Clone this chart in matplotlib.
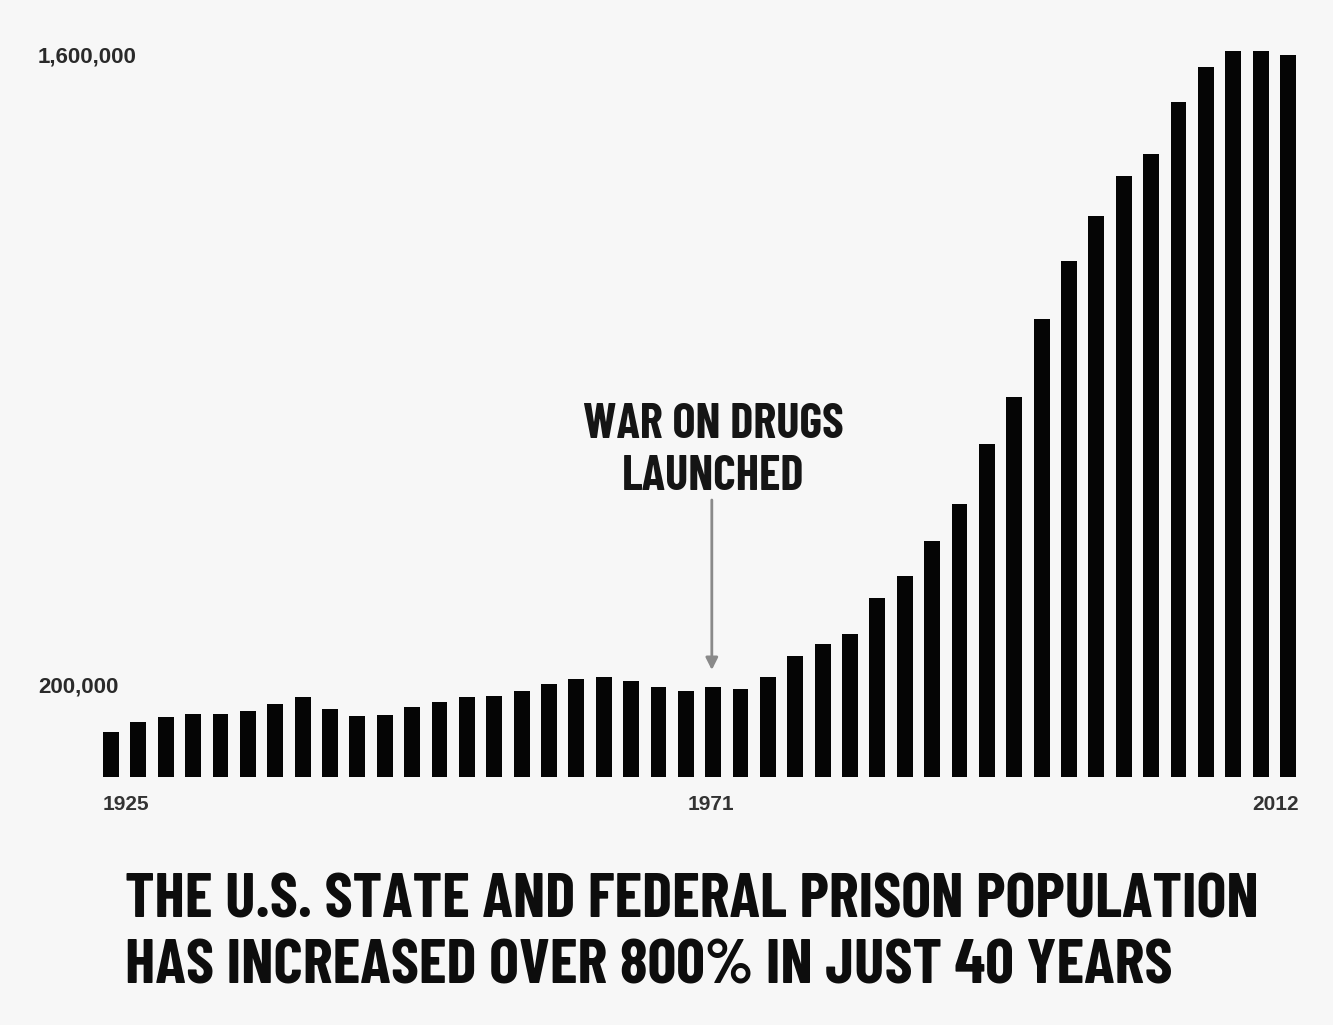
import matplotlib
matplotlib.use('Agg')
import matplotlib.pyplot as plt
from matplotlib.transforms import blended_transform_factory

# ---------------- data ----------------
values = [100000, 122000, 133000, 140000, 140000, 147000, 162000, 178000,
          151000, 136000, 138000, 156000, 167000, 178000, 180000, 191000,
          207000, 218000, 222000, 213000, 200000, 191000, 200000, 196000,
          222000, 269000, 296000, 318000, 398000, 447000, 524000, 607000,
          740000, 844000, 1018000, 1147000, 1247000, 1336000, 1384000,
          1500000, 1578000, 1613000, 1613000, 1604000]
x_tick_labels = ['1925', '1971', '2012']
x_tick_index = [0, 22, 43]
y_tick_values = [200000, 1600000]
y_tick_labels = ['200,000', '1,600,000']
event_index = 22
event_label = ['WAR ON DRUGS', 'LAUNCHED']
title_lines = ['THE U.S. STATE AND FEDERAL PRISON POPULATION',
               'HAS INCREASED OVER 800% IN JUST 40 YEARS']

# ---------------- style ----------------
HEAD = ['Barlow Condensed', 'Bebas Neue', 'DejaVu Sans']
REG = ['Liberation Sans', 'DejaVu Sans']
plt.rcParams['font.family'] = REG
BG = '#f7f7f7'

W, H = 1333, 1025
fig = plt.figure(figsize=(W / 100, H / 100), dpi=100, facecolor=BG)

n = len(values)
x0_px, step_px = 111.0, (1288.0 - 111.0) / (n - 1)
left_px = x0_px - 0.5 * step_px
right_px = x0_px + (n - 0.5) * step_px
base_px, ref_px, ref_val = 777.0, 57.0, 1600000.0
ymax = 1700000.0
top_px = base_px - (base_px - ref_px) * ymax / ref_val
ax = fig.add_axes([left_px / W, (H - base_px) / H,
                   (right_px - left_px) / W, (base_px - top_px) / H])
ax.set_facecolor('none')
ax.set_xlim(-0.5, n - 0.5)
ax.set_ylim(0, ymax)
bw = 0.58
ax.bar(range(n), values, width=bw, color='#050505', zorder=2)
for s in ax.spines.values():
    s.set_visible(False)
ax.set_xticks([])
ax.set_yticks([])

px_per_val = (base_px - ref_px) / ref_val


def fig_y(px):
    return (H - px) / H


# y labels
ty = blended_transform_factory(fig.transFigure, ax.transData)
for v, lab in zip(y_tick_values, y_tick_labels):
    ax.text(38 / W, v, lab, transform=ty, ha='left', va='center',
            fontsize=16, fontweight='bold', family=REG, color='#2a2a2a')

# x labels
tx = blended_transform_factory(ax.transData, fig.transFigure)
for i, (idx, lab) in enumerate(zip(x_tick_index, x_tick_labels)):
    if i == 0:
        xx, ha = idx - bw / 2, 'left'
    elif i == len(x_tick_labels) - 1:
        xx, ha = idx + bw / 2 + 0.1, 'right'
    else:
        xx, ha = idx - 0.07, 'center'
    ax.text(xx, fig_y(810), lab, transform=tx, ha=ha, va='baseline',
            fontsize=15, fontweight='bold', family=REG, color='#333333')

# annotation
ax.text(event_index, fig_y(438), event_label[0], transform=tx, ha='center',
        va='baseline', fontsize=35, fontweight='bold', family=HEAD, color='#151515')
ax.text(event_index, fig_y(490), event_label[1], transform=tx, ha='center',
        va='baseline', fontsize=35, fontweight='bold', family=HEAD, color='#151515')
y_tip = (base_px - 670) / px_per_val
y_tail = (base_px - 500) / px_per_val
ax.annotate('', xy=(event_index - 0.05, y_tip), xytext=(event_index - 0.05, y_tail),
            arrowprops=dict(arrowstyle='-|>', color='#8a8a8a', lw=2,
                            mutation_scale=18, shrinkA=0, shrinkB=0))

# title
fig.text(125 / W, fig_y(918), title_lines[0], ha='left', va='baseline',
         fontsize=45.5, fontweight='bold', family=HEAD, color='#0d0d0d')
fig.text(125 / W, fig_y(983), title_lines[1], ha='left', va='baseline',
         fontsize=45.5, fontweight='bold', family=HEAD, color='#0d0d0d')

fig.savefig('out.png', dpi=100, facecolor=BG)
